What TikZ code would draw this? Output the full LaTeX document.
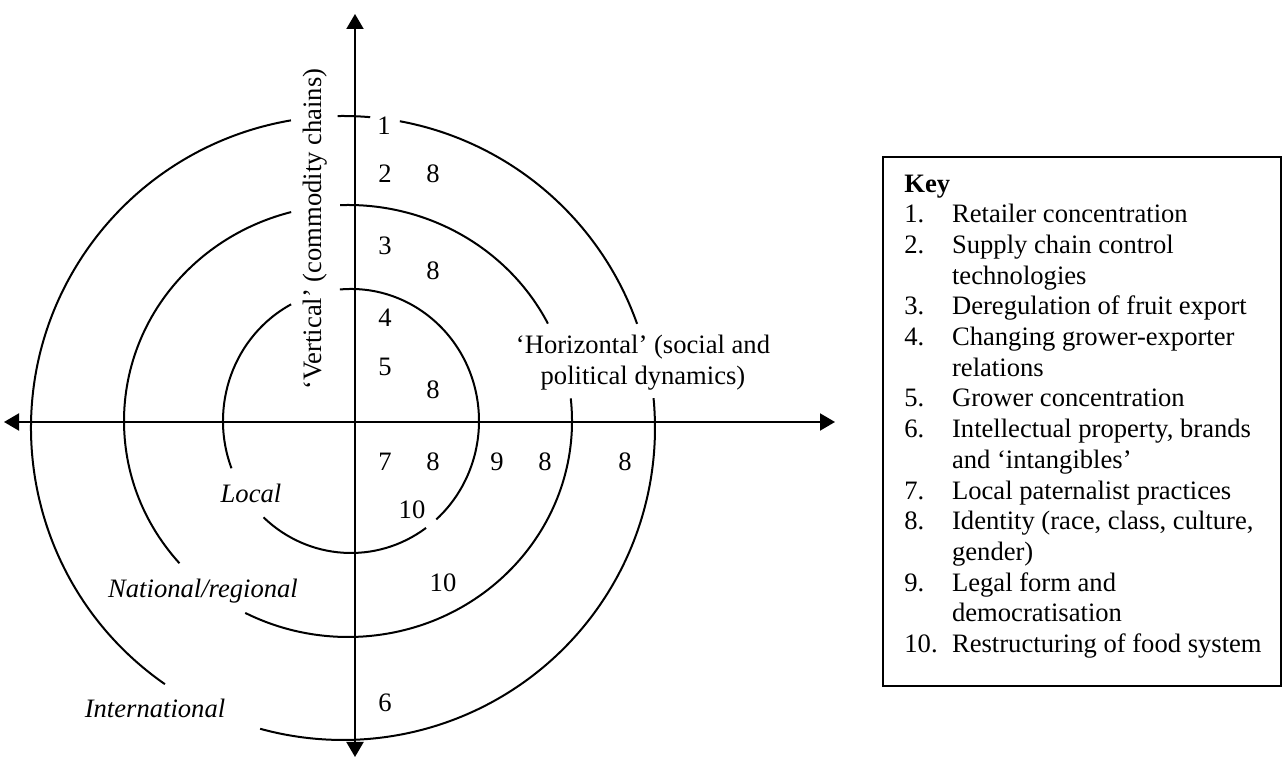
\documentclass[tikz,border=0pt]{standalone}
\usepackage{fontspec}
\setmainfont{Liberation Serif}
\usetikzlibrary{arrows.meta}

\begin{document}
\begin{tikzpicture}[x=0.5pt,y=0.5pt,
	every node/.style={font=\fontsize{13.3pt}{15.35pt}\selectfont, inner sep=0pt},
	num/.style={anchor=base},
	zone/.style={anchor=base, font=\fontsize{13.3pt}{15.35pt}\selectfont\itshape},
	ring/.style={line width=1pt},
	biarrow/.style={line width=1pt, {Triangle[length=7.5pt,width=8.5pt]}-{Triangle[length=7.5pt,width=8.5pt]}}]
	\useasboundingbox (0,0) rectangle (1282,765);

	%axes
	\coordinate (top) at (355,751);
	\coordinate (bottom) at (355,8);
	\coordinate (left) at (4,343);
	\coordinate (right) at (835,343);
	\draw[biarrow] (bottom) -- (top);
	\draw[biarrow] (left) -- (right);

	%centres of the rings
	\coordinate (cint) at (343,337);
	\coordinate (cnat) at (348,344);
	\coordinate (cloc) at (351,344);

	%international
	\draw[ring] (cint) ++(91:312) arc[start angle=91, end angle=85, radius=312];
	\draw[ring] (cint) ++(79.5:312) arc[start angle=79.5, end angle=19.5, radius=312];
	\draw[ring] (cint) ++(5.5:312) arc[start angle=5.5, end angle=-105.4, radius=312];
	\draw[ring] (cint) ++(235.2:312) arc[start angle=235.2, end angle=99.6, radius=312];

	%national/regional
	\draw[ring] (cnat) ++(92:224 and 216) arc[start angle=92, end angle=26.8, x radius=224, y radius=216];
	\draw[ring] (cnat) ++(6:224 and 216) arc[start angle=6, end angle=-117.3, x radius=224, y radius=216];
	\draw[ring] (cnat) ++(221.2:224 and 216) arc[start angle=221.2, end angle=104.7, x radius=224, y radius=216];

	%local
	\draw[ring] (cloc) ++(95:128 and 132) arc[start angle=95, end angle=-48.2, x radius=128, y radius=132];
	\draw[ring] (cloc) ++(-54.1:128 and 132) arc[start angle=-54.1, end angle=-133.1, x radius=128, y radius=132];
	\draw[ring] (cloc) ++(201:128 and 132) arc[start angle=201, end angle=117.9, x radius=128, y radius=132];

	%axis titles
	\node[anchor=base, rotate=90] (vert) at (321,536) {‘Vertical’ (commodity chains)};
	\node[align=center] (horiz) at (643,402) {‘Horizontal’ (social and\\political dynamics)};

	%ring names
	\node[zone] (local) at (251,262) {Local};
	\node[zone] (national) at (203,167) {National/regional};
	\node[zone] (international) at (155,47) {International};

	%numbers
	\node[num] (n1) at (384,630) {1};
	\node[num] (n2) at (385,582) {2};
	\node[num] (n8a) at (433,582) {8};
	\node[num] (n3) at (385,510) {3};
	\node[num] (n8b) at (433,485) {8};
	\node[num] (n4) at (385,438) {4};
	\node[num] (n5) at (385,389) {5};
	\node[num] (n8c) at (433,366) {8};
	\node[num] (n7) at (385,294) {7};
	\node[num] (n8d) at (433,294) {8};
	\node[num] (n9) at (497,294) {9};
	\node[num] (n8e) at (545,294) {8};
	\node[num] (n8f) at (625,294) {8};
	\node[num] (n10a) at (412,246) {10};
	\node[num] (n10b) at (443,173) {10};
	\node[num] (n6) at (385,53) {6};

	%key
	\draw[line width=1pt] (883,79) rectangle (1280.5,608);
	\node[anchor=north west] (key) at (904,594.8) {%
		\begin{tabular}{@{}p{23.85pt}@{}l@{}}
			\multicolumn{2}{@{}l@{}}{\textbf{Key}}\\
			1. & Retailer concentration\\
			2. & Supply chain control\\
			   & technologies\\
			3. & Deregulation of fruit export\\
			4. & Changing grower-exporter\\
			   & relations\\
			5. & Grower concentration\\
			6. & Intellectual property, brands\\
			   & and ‘intangibles’\\
			7. & Local paternalist practices\\
			8. & Identity (race, class, culture,\\
			   & gender)\\
			9. & Legal form and\\
			   & democratisation\\
			10. & Restructuring of food system
		\end{tabular}};
\end{tikzpicture}
\end{document}
